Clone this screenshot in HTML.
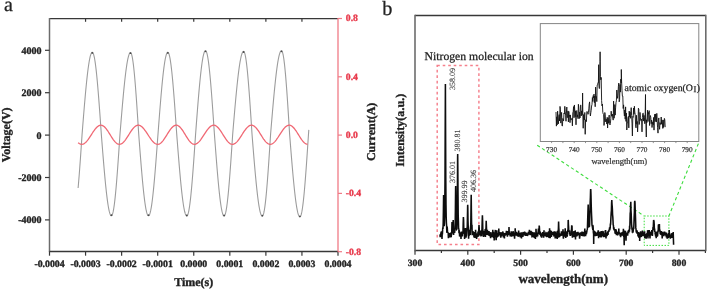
<!DOCTYPE html>
<html><head><meta charset="utf-8"><style>
html,body{margin:0;padding:0;background:#fff;}
svg{display:block;}
.tb{font-family:"Liberation Serif",serif;font-weight:bold;fill:#222;stroke:#222;stroke-width:0.35px;}
text{text-rendering:geometricPrecision;}
#g{will-change:transform;}
.tr{font-family:"Liberation Serif",serif;fill:#222;stroke:#222;stroke-width:0.25px;}
</style></head><body>
<svg width="708" height="292" viewBox="0 0 708 292">
<rect width="708" height="292" fill="#fff"/>
<g id="g"><line x1="49.5" y1="18.6" x2="338.0" y2="18.6" stroke="#383838" stroke-width="1.3"/>
<line x1="49.5" y1="18.0" x2="49.5" y2="252.1" stroke="#6c6c6c" stroke-width="1.5"/>
<line x1="49.5" y1="251.5" x2="338.0" y2="251.5" stroke="#383838" stroke-width="1.3"/>
<line x1="338.0" y1="18.0" x2="338.0" y2="252.1" stroke="#f07a86" stroke-width="1.3"/>
<line x1="49.50" y1="251.5" x2="49.50" y2="255.7" stroke="#383838" stroke-width="1.2"/>
<line x1="85.56" y1="251.5" x2="85.56" y2="255.7" stroke="#383838" stroke-width="1.2"/>
<line x1="85.56" y1="18.6" x2="85.56" y2="21.8" stroke="#383838" stroke-width="1.2"/>
<line x1="121.62" y1="251.5" x2="121.62" y2="255.7" stroke="#383838" stroke-width="1.2"/>
<line x1="121.62" y1="18.6" x2="121.62" y2="21.8" stroke="#383838" stroke-width="1.2"/>
<line x1="157.69" y1="251.5" x2="157.69" y2="255.7" stroke="#383838" stroke-width="1.2"/>
<line x1="157.69" y1="18.6" x2="157.69" y2="21.8" stroke="#383838" stroke-width="1.2"/>
<line x1="193.75" y1="251.5" x2="193.75" y2="255.7" stroke="#383838" stroke-width="1.2"/>
<line x1="193.75" y1="18.6" x2="193.75" y2="21.8" stroke="#383838" stroke-width="1.2"/>
<line x1="229.81" y1="251.5" x2="229.81" y2="255.7" stroke="#383838" stroke-width="1.2"/>
<line x1="229.81" y1="18.6" x2="229.81" y2="21.8" stroke="#383838" stroke-width="1.2"/>
<line x1="265.88" y1="251.5" x2="265.88" y2="255.7" stroke="#383838" stroke-width="1.2"/>
<line x1="265.88" y1="18.6" x2="265.88" y2="21.8" stroke="#383838" stroke-width="1.2"/>
<line x1="301.94" y1="251.5" x2="301.94" y2="255.7" stroke="#383838" stroke-width="1.2"/>
<line x1="301.94" y1="18.6" x2="301.94" y2="21.8" stroke="#383838" stroke-width="1.2"/>
<line x1="338.00" y1="251.5" x2="338.00" y2="255.7" stroke="#383838" stroke-width="1.2"/>
<text x="49.50" y="266.8" class="tb" font-size="9.8" text-anchor="middle">-0.0004</text>
<text x="85.56" y="266.8" class="tb" font-size="9.8" text-anchor="middle">-0.0003</text>
<text x="121.62" y="266.8" class="tb" font-size="9.8" text-anchor="middle">-0.0002</text>
<text x="157.69" y="266.8" class="tb" font-size="9.8" text-anchor="middle">-0.0001</text>
<text x="193.75" y="266.8" class="tb" font-size="9.8" text-anchor="middle">0.0000</text>
<text x="229.81" y="266.8" class="tb" font-size="9.8" text-anchor="middle">0.0001</text>
<text x="265.88" y="266.8" class="tb" font-size="9.8" text-anchor="middle">0.0002</text>
<text x="301.94" y="266.8" class="tb" font-size="9.8" text-anchor="middle">0.0003</text>
<text x="338.00" y="266.8" class="tb" font-size="9.8" text-anchor="middle">0.0004</text>
<line x1="45.0" y1="50.30" x2="49.5" y2="50.30" stroke="#383838" stroke-width="1.2"/>
<text x="41.6" y="53.70" class="tb" font-size="10" text-anchor="end">4000</text>
<line x1="45.0" y1="92.70" x2="49.5" y2="92.70" stroke="#383838" stroke-width="1.2"/>
<text x="41.6" y="96.10" class="tb" font-size="10" text-anchor="end">2000</text>
<line x1="45.0" y1="135.10" x2="49.5" y2="135.10" stroke="#383838" stroke-width="1.2"/>
<text x="41.6" y="138.50" class="tb" font-size="10" text-anchor="end">0</text>
<line x1="45.0" y1="177.50" x2="49.5" y2="177.50" stroke="#383838" stroke-width="1.2"/>
<text x="41.6" y="180.90" class="tb" font-size="10" text-anchor="end">-2000</text>
<line x1="45.0" y1="219.90" x2="49.5" y2="219.90" stroke="#383838" stroke-width="1.2"/>
<text x="41.6" y="223.30" class="tb" font-size="10" text-anchor="end">-4000</text>
<line x1="338.0" y1="18.50" x2="342.0" y2="18.50" stroke="#f07a86" stroke-width="1.2"/>
<text x="345.8" y="21.35" class="tb" font-size="9.7" style="fill:#e83a4c;stroke:#e83a4c">0.8</text>
<line x1="338.0" y1="76.80" x2="342.0" y2="76.80" stroke="#f07a86" stroke-width="1.2"/>
<text x="345.8" y="79.65" class="tb" font-size="9.7" style="fill:#e83a4c;stroke:#e83a4c">0.4</text>
<line x1="338.0" y1="135.10" x2="342.0" y2="135.10" stroke="#f07a86" stroke-width="1.2"/>
<text x="345.8" y="137.95" class="tb" font-size="9.7" style="fill:#e83a4c;stroke:#e83a4c">0.0</text>
<line x1="338.0" y1="193.40" x2="342.0" y2="193.40" stroke="#f07a86" stroke-width="1.2"/>
<text x="345.8" y="196.25" class="tb" font-size="9.7" style="fill:#e83a4c;stroke:#e83a4c">-0.4</text>
<line x1="338.0" y1="251.70" x2="342.0" y2="251.70" stroke="#f07a86" stroke-width="1.2"/>
<text x="345.8" y="254.55" class="tb" font-size="9.7" style="fill:#e83a4c;stroke:#e83a4c">-0.8</text>
<text x="193.7" y="286.2" class="tb" font-size="12" text-anchor="middle">Time(s)</text>
<text transform="translate(10.1,134.9) rotate(-90)" class="tb" font-size="12" text-anchor="middle">Voltage(V)</text>
<text transform="translate(375.2,131.9) rotate(-90)" class="tb" font-size="12" text-anchor="middle">Current(A)</text>
<text x="4.0" y="11" class="tr" font-size="20">a</text>
<polyline fill="none" stroke="#9c9c9c" stroke-width="1.1" points="78.10,188.07 78.35,185.25 78.60,182.32 78.85,179.29 79.10,176.17 79.35,172.97 79.60,169.68 79.85,166.32 80.10,162.90 80.35,159.42 80.60,155.88 80.85,152.31 81.10,148.69 81.35,145.04 81.60,141.37 81.85,137.69 82.10,134.00 82.35,130.86 82.60,127.72 82.85,124.58 83.10,121.47 83.35,118.37 83.60,115.29 83.85,112.25 84.10,109.23 84.35,106.25 84.60,103.32 84.85,100.43 85.10,97.58 85.35,94.80 85.60,92.07 85.85,89.40 86.10,86.80 86.35,84.26 86.60,81.81 86.85,79.43 87.10,77.13 87.35,74.91 87.60,72.78 87.85,70.75 88.10,68.80 88.35,66.96 88.60,65.21 88.85,63.56 89.10,62.02 89.35,60.59 89.60,59.26 89.85,58.05 90.10,56.94 90.35,55.96 90.60,55.08 90.85,54.33 91.10,53.69 91.35,53.17 91.60,52.77 91.85,52.50 92.10,52.34 92.35,52.30 92.60,52.41 92.85,52.68 93.10,53.10 93.35,53.67 93.60,54.39 93.85,55.27 94.10,56.30 94.35,57.47 94.60,58.79 94.85,60.26 95.10,61.86 95.35,63.60 95.60,65.48 95.85,67.49 96.10,69.62 96.35,71.87 96.60,74.25 96.85,76.74 97.10,79.33 97.35,82.03 97.60,84.83 97.85,87.72 98.10,90.71 98.35,93.77 98.60,96.91 98.85,100.12 99.10,103.39 99.35,106.73 99.60,110.11 99.85,113.54 100.10,117.01 100.35,120.52 100.60,124.04 100.85,127.59 101.10,131.15 101.35,134.64 101.60,137.82 101.85,140.99 102.10,144.15 102.35,147.30 102.60,150.43 102.85,153.53 103.10,156.60 103.35,159.64 103.60,162.64 103.85,165.60 104.10,168.51 104.35,171.36 104.60,174.16 104.85,176.90 105.10,179.58 105.35,182.18 105.60,184.72 105.85,187.17 106.10,189.55 106.35,191.84 106.60,194.05 106.85,196.16 107.10,198.18 107.35,200.10 107.60,201.93 107.85,203.65 108.10,205.26 108.35,206.77 108.60,208.17 108.85,209.45 109.10,210.62 109.35,211.68 109.60,212.62 109.85,213.43 110.10,214.13 110.35,214.71 110.60,215.17 110.85,215.50 111.10,215.71 111.35,215.80 111.60,215.75 111.85,215.52 112.10,215.13 112.35,214.57 112.60,213.84 112.85,212.95 113.10,211.89 113.35,210.67 113.60,209.28 113.85,207.75 114.10,206.05 114.35,204.21 114.60,202.22 114.85,200.09 115.10,197.82 115.35,195.42 115.60,192.89 115.85,190.24 116.10,187.46 116.35,184.58 116.60,181.60 116.85,178.51 117.10,175.33 117.35,172.07 117.60,168.72 117.85,165.30 118.10,161.82 118.35,158.28 118.60,154.69 118.85,151.06 119.10,147.39 119.35,143.69 119.60,139.97 119.85,136.24 120.10,132.78 120.35,129.74 120.60,126.70 120.85,123.68 121.10,120.67 121.35,117.67 121.60,114.70 121.85,111.76 122.10,108.85 122.35,105.97 122.60,103.13 122.85,100.34 123.10,97.59 123.35,94.89 123.60,92.25 123.85,89.67 124.10,87.14 124.35,84.69 124.60,82.30 124.85,79.99 125.10,77.75 125.35,75.59 125.60,73.51 125.85,71.51 126.10,69.61 126.35,67.79 126.60,66.07 126.85,64.44 127.10,62.90 127.35,61.47 127.60,60.14 127.85,58.91 128.10,57.79 128.35,56.77 128.60,55.87 128.85,55.07 129.10,54.38 129.35,53.80 129.60,53.34 129.85,52.98 130.10,52.75 130.35,52.62 130.60,52.61 130.85,52.78 131.10,53.14 131.35,53.68 131.60,54.40 131.85,55.31 132.10,56.39 132.35,57.66 132.60,59.10 132.85,60.71 133.10,62.49 133.35,64.43 133.60,66.54 133.85,68.79 134.10,71.20 134.35,73.75 134.60,76.44 134.85,79.26 135.10,82.21 135.35,85.28 135.60,88.45 135.85,91.73 136.10,95.11 136.35,98.58 136.60,102.13 136.85,105.75 137.10,109.44 137.35,113.18 137.60,116.97 137.85,120.80 138.10,124.66 138.35,128.55 138.60,132.44 138.85,135.97 139.10,139.24 139.35,142.51 139.60,145.76 139.85,148.99 140.10,152.20 140.35,155.38 140.60,158.53 140.85,161.63 141.10,164.70 141.35,167.71 141.60,170.67 141.85,173.57 142.10,176.40 142.35,179.17 142.60,181.87 142.85,184.49 143.10,187.03 143.35,189.48 143.60,191.84 143.85,194.11 144.10,196.29 144.35,198.36 144.60,200.33 144.85,202.20 145.10,203.95 145.35,205.59 145.60,207.12 145.85,208.53 146.10,209.82 146.35,210.99 146.60,212.04 146.85,212.96 147.10,213.75 147.35,214.41 147.60,214.95 147.85,215.36 148.10,215.63 148.35,215.78 148.60,215.79 148.85,215.66 149.10,215.40 149.35,214.99 149.60,214.45 149.85,213.77 150.10,212.95 150.35,212.00 150.60,210.92 150.85,209.70 151.10,208.36 151.35,206.88 151.60,205.29 151.85,203.57 152.10,201.73 152.35,199.78 152.60,197.71 152.85,195.54 153.10,193.26 153.35,190.88 153.60,188.40 153.85,185.83 154.10,183.17 154.35,180.42 154.60,177.60 154.85,174.70 155.10,171.74 155.35,168.71 155.60,165.62 155.85,162.47 156.10,159.28 156.35,156.04 156.60,152.77 156.85,149.46 157.10,146.13 157.35,142.77 157.60,139.41 157.85,136.03 158.10,132.69 158.35,129.42 158.60,126.15 158.85,122.90 159.10,119.67 159.35,116.46 159.60,113.28 159.85,110.13 160.10,107.02 160.35,103.95 160.60,100.93 160.85,97.96 161.10,95.05 161.35,92.21 161.60,89.43 161.85,86.72 162.10,84.09 162.35,81.54 162.60,79.07 162.85,76.69 163.10,74.41 163.35,72.22 163.60,70.12 163.85,68.13 164.10,66.25 164.35,64.48 164.60,62.81 164.85,61.26 165.10,59.83 165.35,58.52 165.60,57.33 165.85,56.26 166.10,55.31 166.35,54.50 166.60,53.81 166.85,53.25 167.10,52.81 167.35,52.51 167.60,52.34 167.85,52.30 168.10,52.41 168.35,52.68 168.60,53.11 168.85,53.70 169.10,54.44 169.35,55.34 169.60,56.39 169.85,57.59 170.10,58.94 170.35,60.44 170.60,62.07 170.85,63.85 171.10,65.77 171.35,67.82 171.60,70.00 171.85,72.30 172.10,74.72 172.35,77.26 172.60,79.91 172.85,82.66 173.10,85.51 173.35,88.46 173.60,91.50 173.85,94.62 174.10,97.81 174.35,101.08 174.60,104.41 174.85,107.80 175.10,111.23 175.35,114.72 175.60,118.24 175.85,121.79 176.10,125.36 176.35,128.96 176.60,132.56 176.85,135.91 177.10,139.10 177.35,142.28 177.60,145.44 177.85,148.59 178.10,151.71 178.35,154.81 178.60,157.88 178.85,160.91 179.10,163.90 179.35,166.85 179.60,169.74 179.85,172.58 180.10,175.37 180.35,178.09 180.60,180.74 180.85,183.33 181.10,185.84 181.35,188.27 181.60,190.61 181.85,192.88 182.10,195.05 182.35,197.13 182.60,199.12 182.85,201.01 183.10,202.79 183.35,204.48 183.60,206.05 183.85,207.52 184.10,208.88 184.35,210.12 184.60,211.25 184.85,212.26 185.10,213.15 185.35,213.92 185.60,214.58 185.85,215.11 186.10,215.51 186.35,215.80 186.60,215.96 186.85,216.00 187.10,215.88 187.35,215.61 187.60,215.17 187.85,214.56 188.10,213.80 188.35,212.88 188.60,211.80 188.85,210.57 189.10,209.19 189.35,207.65 189.60,205.97 189.85,204.14 190.10,202.18 190.35,200.08 190.60,197.85 190.85,195.49 191.10,193.01 191.35,190.41 191.60,187.70 191.85,184.88 192.10,181.96 192.35,178.95 192.60,175.84 192.85,172.65 193.10,169.39 193.35,166.05 193.60,162.66 193.85,159.20 194.10,155.69 194.35,152.14 194.60,148.56 194.85,144.94 195.10,141.31 195.35,137.66 195.60,134.00 195.85,130.70 196.10,127.40 196.35,124.11 196.60,120.84 196.85,117.59 197.10,114.36 197.35,111.17 197.60,108.01 197.85,104.89 198.10,101.82 198.35,98.80 198.60,95.83 198.85,92.92 199.10,90.08 199.35,87.31 199.60,84.61 199.85,81.99 200.10,79.45 200.35,77.00 200.60,74.63 200.85,72.36 201.10,70.19 201.35,68.12 201.60,66.15 201.85,64.28 202.10,62.53 202.35,60.89 202.60,59.36 202.85,57.96 203.10,56.67 203.35,55.50 203.60,54.46 203.85,53.54 204.10,52.75 204.35,52.08 204.60,51.55 204.85,51.14 205.10,50.87 205.35,50.72 205.60,50.71 205.85,50.86 206.10,51.17 206.35,51.64 206.60,52.26 206.85,53.05 207.10,54.00 207.35,55.10 207.60,56.36 207.85,57.76 208.10,59.32 208.35,61.02 208.60,62.86 208.85,64.84 209.10,66.96 209.35,69.20 209.60,71.57 209.85,74.07 210.10,76.68 210.35,79.40 210.60,82.23 210.85,85.16 211.10,88.18 211.35,91.29 211.60,94.49 211.85,97.76 212.10,101.11 212.35,104.51 212.60,107.98 212.85,111.50 213.10,115.05 213.35,118.65 213.60,122.28 213.85,125.93 214.10,129.59 214.35,133.26 214.60,136.66 214.85,139.97 215.10,143.28 215.35,146.57 215.60,149.83 215.85,153.08 216.10,156.29 216.35,159.47 216.60,162.60 216.85,165.69 217.10,168.72 217.35,171.70 217.60,174.62 217.85,177.47 218.10,180.24 218.35,182.95 218.60,185.57 218.85,188.11 219.10,190.56 219.35,192.91 219.60,195.17 219.85,197.33 220.10,199.39 220.35,201.34 220.60,203.18 220.85,204.90 221.10,206.51 221.35,208.00 221.60,209.37 221.85,210.62 222.10,211.74 222.35,212.73 222.60,213.59 222.85,214.33 223.10,214.93 223.35,215.40 223.60,215.73 223.85,215.93 224.10,216.00 224.35,215.91 224.60,215.66 224.85,215.23 225.10,214.64 225.35,213.87 225.60,212.94 225.85,211.85 226.10,210.59 226.35,209.17 226.60,207.60 226.85,205.87 227.10,203.99 227.35,201.97 227.60,199.81 227.85,197.51 228.10,195.07 228.35,192.51 228.60,189.83 228.85,187.03 229.10,184.12 229.35,181.10 229.60,177.99 229.85,174.78 230.10,171.49 230.35,168.13 230.60,164.69 230.85,161.18 231.10,157.62 231.35,154.02 231.60,150.36 231.85,146.68 232.10,142.97 232.35,139.24 232.60,135.50 232.85,132.21 233.10,129.24 233.35,126.27 233.60,123.32 233.85,120.37 234.10,117.45 234.35,114.54 234.60,111.66 234.85,108.82 235.10,106.00 235.35,103.22 235.60,100.48 235.85,97.78 236.10,95.13 236.35,92.53 236.60,89.98 236.85,87.49 237.10,85.06 237.35,82.70 237.60,80.40 237.85,78.17 238.10,76.02 238.35,73.93 238.60,71.93 238.85,70.01 239.10,68.17 239.35,66.41 239.60,64.75 239.85,63.17 240.10,61.69 240.35,60.30 240.60,59.00 240.85,57.80 241.10,56.70 241.35,55.70 241.60,54.81 241.85,54.01 242.10,53.32 242.35,52.74 242.60,52.26 242.85,51.88 243.10,51.61 243.35,51.45 243.60,51.40 243.85,51.49 244.10,51.76 244.35,52.21 244.60,52.84 244.85,53.65 245.10,54.63 245.35,55.78 245.60,57.11 245.85,58.60 246.10,60.26 246.35,62.08 246.60,64.06 246.85,66.19 247.10,68.47 247.35,70.89 247.60,73.45 247.85,76.14 248.10,78.96 248.35,81.90 248.60,84.95 248.85,88.11 249.10,91.37 249.35,94.72 249.60,98.16 249.85,101.68 250.10,105.27 250.35,108.92 250.60,112.62 250.85,116.37 251.10,120.16 251.35,123.98 251.60,127.83 251.85,131.68 252.10,135.25 252.35,138.39 252.60,141.51 252.85,144.63 253.10,147.72 253.35,150.80 253.60,153.86 253.85,156.88 254.10,159.88 254.35,162.83 254.60,165.75 254.85,168.61 255.10,171.43 255.35,174.19 255.60,176.90 255.85,179.54 256.10,182.11 256.35,184.62 256.60,187.05 256.85,189.41 257.10,191.68 257.35,193.87 257.60,195.97 257.85,197.99 258.10,199.91 258.35,201.73 258.60,203.46 258.85,205.08 259.10,206.60 259.35,208.02 259.60,209.33 259.85,210.53 260.10,211.62 260.35,212.59 260.60,213.45 260.85,214.20 261.10,214.83 261.35,215.34 261.60,215.73 261.85,216.01 262.10,216.16 262.35,216.20 262.60,216.07 262.85,215.76 263.10,215.26 263.35,214.58 263.60,213.72 263.85,212.69 264.10,211.48 264.35,210.09 264.60,208.53 264.85,206.81 265.10,204.93 265.35,202.88 265.60,200.68 265.85,198.34 266.10,195.84 266.35,193.21 266.60,190.45 266.85,187.56 267.10,184.55 267.35,181.43 267.60,178.20 267.85,174.88 268.10,171.46 268.35,167.95 268.60,164.38 268.85,160.73 269.10,157.02 269.35,153.26 269.60,149.46 269.85,145.63 270.10,141.77 270.35,137.89 270.60,134.00 270.85,131.00 271.10,128.00 271.35,125.01 271.60,122.04 271.85,119.08 272.10,116.13 272.35,113.21 272.60,110.32 272.85,107.46 273.10,104.63 273.35,101.85 273.60,99.10 273.85,96.40 274.10,93.74 274.35,91.14 274.60,88.60 274.85,86.11 275.10,83.69 275.35,81.33 275.60,79.04 275.85,76.82 276.10,74.68 276.35,72.61 276.60,70.62 276.85,68.71 277.10,66.89 277.35,65.16 277.60,63.51 277.85,61.96 278.10,60.50 278.35,59.14 278.60,57.87 278.85,56.70 279.10,55.63 279.35,54.67 279.60,53.80 279.85,53.04 280.10,52.39 280.35,51.84 280.60,51.40 280.85,51.07 281.10,50.84 281.35,50.72 281.60,50.72 281.85,50.89 282.10,51.26 282.35,51.83 282.60,52.59 282.85,53.54 283.10,54.68 283.35,56.00 283.60,57.51 283.85,59.20 284.10,61.07 284.35,63.10 284.60,65.30 284.85,67.67 285.10,70.19 285.35,72.86 285.60,75.67 285.85,78.62 286.10,81.70 286.35,84.91 286.60,88.23 286.85,91.65 287.10,95.18 287.35,98.80 287.60,102.50 287.85,106.27 288.10,110.11 288.35,114.00 288.60,117.95 288.85,121.93 289.10,125.94 289.35,129.96 289.60,134.00 289.85,137.16 290.10,140.32 290.35,143.46 290.60,146.59 290.85,149.71 291.10,152.80 291.35,155.86 291.60,158.90 291.85,161.89 292.10,164.85 292.35,167.76 292.60,170.62 292.85,173.43 293.10,176.18 293.35,178.87 293.60,181.49 293.85,184.05 294.10,186.53 294.35,188.94 294.60,191.26 294.85,193.51 295.10,195.66 295.35,197.73 295.60,199.70 295.85,201.58 296.10,203.36 296.35,205.04 296.60,206.62 296.85,208.09 297.10,209.46 297.35,210.71 297.60,211.85 297.85,212.88 298.10,213.80 298.35,214.59 298.60,215.28 298.85,215.84 299.10,216.28 299.35,216.61 299.60,216.81 299.85,216.90 300.10,216.84 300.35,216.62 300.60,216.22 300.85,215.66 301.10,214.92 301.35,214.01 301.60,212.94 301.85,211.70 302.10,210.30 302.35,208.74 302.60,207.02 302.85,205.15 303.10,203.14 303.35,200.98 303.60,198.68 303.85,196.24 304.10,193.68 304.35,190.99 304.60,188.18 304.85,185.26 305.10,182.24 305.35,179.11 305.60,175.89 305.85,172.58 306.10,169.19 306.35,165.72 306.60,162.20 306.85,158.61 307.10,154.97 307.35,151.29 307.60,147.57 307.85,143.82 308.10,140.05 308.35,136.27 308.60,132.63 308.80,129.88"/>
<circle cx="92.30" cy="52.90" r="0.9" fill="#4a4a4a"/>
<circle cx="111.40" cy="215.20" r="0.9" fill="#4a4a4a"/>
<circle cx="130.50" cy="53.20" r="0.9" fill="#4a4a4a"/>
<circle cx="148.50" cy="215.20" r="0.9" fill="#4a4a4a"/>
<circle cx="167.80" cy="52.90" r="0.9" fill="#4a4a4a"/>
<circle cx="186.80" cy="215.40" r="0.9" fill="#4a4a4a"/>
<circle cx="205.50" cy="51.30" r="0.9" fill="#4a4a4a"/>
<circle cx="224.10" cy="215.40" r="0.9" fill="#4a4a4a"/>
<circle cx="243.60" cy="52.00" r="0.9" fill="#4a4a4a"/>
<circle cx="262.30" cy="215.60" r="0.9" fill="#4a4a4a"/>
<circle cx="281.50" cy="51.30" r="0.9" fill="#4a4a4a"/>
<circle cx="299.90" cy="216.30" r="0.9" fill="#4a4a4a"/>
<polyline fill="none" stroke="#f06874" stroke-width="1.3" points="78.10,142.66 78.60,143.07 79.10,143.43 79.60,143.73 80.10,143.97 80.60,144.14 81.10,144.25 81.60,144.30 82.10,144.28 82.60,144.20 83.10,144.05 83.60,143.84 84.10,143.57 84.60,143.24 85.10,142.86 85.60,142.42 86.10,141.93 86.60,141.39 87.10,140.81 87.60,140.18 88.10,139.53 88.60,138.83 89.10,138.11 89.60,137.37 90.10,136.61 90.60,135.84 91.10,135.06 91.60,134.28 92.10,133.50 92.60,132.73 93.10,131.98 93.60,131.24 94.10,130.53 94.60,129.84 95.10,129.19 95.60,128.57 96.10,128.00 96.60,127.47 97.10,126.99 97.60,126.56 98.10,126.18 98.60,125.87 99.10,125.61 99.60,125.42 100.10,125.28 100.60,125.21 101.10,125.21 101.60,125.27 102.10,125.40 102.60,125.60 103.10,125.86 103.60,126.19 104.10,126.58 104.60,127.02 105.10,127.53 105.60,128.08 106.10,128.69 106.60,129.34 107.10,130.02 107.60,130.74 108.10,131.49 108.60,132.27 109.10,133.06 109.60,133.86 110.10,134.67 110.60,135.48 111.10,136.28 111.60,137.08 112.10,137.85 112.60,138.61 113.10,139.34 113.60,140.03 114.10,140.69 114.60,141.30 115.10,141.87 115.60,142.38 116.10,142.84 116.60,143.24 117.10,143.58 117.60,143.86 118.10,144.07 118.60,144.21 119.10,144.29 119.60,144.29 120.10,144.23 120.60,144.11 121.10,143.92 121.60,143.66 122.10,143.34 122.60,142.97 123.10,142.53 123.60,142.04 124.10,141.50 124.60,140.92 125.10,140.29 125.60,139.62 126.10,138.91 126.60,138.18 127.10,137.43 127.60,136.65 128.10,135.86 128.60,135.07 129.10,134.27 129.60,133.48 130.10,132.69 130.60,131.92 131.10,131.17 131.60,130.44 132.10,129.75 132.60,129.09 133.10,128.46 133.60,127.89 134.10,127.36 134.60,126.88 135.10,126.45 135.60,126.09 136.10,125.78 136.60,125.54 137.10,125.36 137.60,125.25 138.10,125.20 138.60,125.22 139.10,125.30 139.60,125.44 140.10,125.64 140.60,125.91 141.10,126.22 141.60,126.60 142.10,127.02 142.60,127.50 143.10,128.02 143.60,128.59 144.10,129.20 144.60,129.84 145.10,130.52 145.60,131.22 146.10,131.95 146.60,132.69 147.10,133.45 147.60,134.21 148.10,134.98 148.60,135.75 149.10,136.51 149.60,137.26 150.10,137.99 150.60,138.70 151.10,139.39 151.60,140.05 152.10,140.67 152.60,141.25 153.10,141.80 153.60,142.29 154.10,142.74 154.60,143.13 155.10,143.47 155.60,143.76 156.10,143.98 156.60,144.15 157.10,144.26 157.60,144.30 158.10,144.28 158.60,144.19 159.10,144.03 159.60,143.81 160.10,143.52 160.60,143.17 161.10,142.75 161.60,142.28 162.10,141.76 162.60,141.18 163.10,140.56 163.60,139.89 164.10,139.19 164.60,138.46 165.10,137.70 165.60,136.92 166.10,136.12 166.60,135.32 167.10,134.51 167.60,133.70 168.10,132.90 168.60,132.11 169.10,131.34 169.60,130.60 170.10,129.88 170.60,129.20 171.10,128.56 171.60,127.97 172.10,127.42 172.60,126.93 173.10,126.49 173.60,126.12 174.10,125.80 174.60,125.55 175.10,125.37 175.60,125.25 176.10,125.20 176.60,125.22 177.10,125.32 177.60,125.48 178.10,125.71 178.60,126.01 179.10,126.37 179.60,126.80 180.10,127.28 180.60,127.82 181.10,128.42 181.60,129.06 182.10,129.74 182.60,130.46 183.10,131.21 183.60,131.99 184.10,132.79 184.60,133.60 185.10,134.42 185.60,135.24 186.10,136.06 186.60,136.88 187.10,137.67 187.60,138.44 188.10,139.19 188.60,139.90 189.10,140.57 189.60,141.21 190.10,141.79 190.60,142.32 191.10,142.79 191.60,143.21 192.10,143.56 192.60,143.84 193.10,144.06 193.60,144.21 194.10,144.29 194.60,144.29 195.10,144.24 195.60,144.12 196.10,143.94 196.60,143.69 197.10,143.39 197.60,143.03 198.10,142.62 198.60,142.15 199.10,141.64 199.60,141.08 200.10,140.48 200.60,139.84 201.10,139.16 201.60,138.46 202.10,137.73 202.60,136.98 203.10,136.22 203.60,135.45 204.10,134.67 204.60,133.90 205.10,133.13 205.60,132.37 206.10,131.62 206.60,130.90 207.10,130.20 207.60,129.53 208.10,128.90 208.60,128.31 209.10,127.75 209.60,127.25 210.10,126.79 210.60,126.39 211.10,126.04 211.60,125.75 212.10,125.52 212.60,125.35 213.10,125.25 213.60,125.20 214.10,125.22 214.60,125.31 215.10,125.46 215.60,125.68 216.10,125.97 216.60,126.31 217.10,126.72 217.60,127.18 218.10,127.69 218.60,128.26 219.10,128.87 219.60,129.52 220.10,130.21 220.60,130.93 221.10,131.68 221.60,132.45 222.10,133.23 222.60,134.03 223.10,134.83 223.60,135.63 224.10,136.43 224.60,137.21 225.10,137.97 225.60,138.72 226.10,139.43 226.60,140.11 227.10,140.76 227.60,141.36 228.10,141.91 228.60,142.42 229.10,142.87 229.60,143.26 230.10,143.60 230.60,143.87 231.10,144.07 231.60,144.21 232.10,144.29 232.60,144.29 233.10,144.24 233.60,144.11 234.10,143.93 234.60,143.68 235.10,143.37 235.60,143.01 236.10,142.59 236.60,142.11 237.10,141.59 237.60,141.01 238.10,140.40 238.60,139.75 239.10,139.06 239.60,138.35 240.10,137.61 240.60,136.85 241.10,136.08 241.60,135.30 242.10,134.51 242.60,133.73 243.10,132.95 243.60,132.19 244.10,131.44 244.60,130.72 245.10,130.02 245.60,129.35 246.10,128.73 246.60,128.14 247.10,127.59 247.60,127.10 248.10,126.65 248.60,126.27 249.10,125.93 249.60,125.66 250.10,125.45 250.60,125.30 251.10,125.22 251.60,125.20 252.10,125.25 252.60,125.36 253.10,125.54 253.60,125.79 254.10,126.10 254.60,126.47 255.10,126.89 255.60,127.38 256.10,127.91 256.60,128.50 257.10,129.12 257.60,129.79 258.10,130.49 258.60,131.23 259.10,131.98 259.60,132.76 260.10,133.55 260.60,134.35 261.10,135.15 261.60,135.95 262.10,136.74 262.60,137.52 263.10,138.27 263.60,139.01 264.10,139.71 264.60,140.38 265.10,141.00 265.60,141.59 266.10,142.12 266.60,142.61 267.10,143.03 267.60,143.40 268.10,143.71 268.60,143.96 269.10,144.14 269.60,144.25 270.10,144.30 270.60,144.28 271.10,144.19 271.60,144.05 272.10,143.83 272.60,143.56 273.10,143.22 273.60,142.83 274.10,142.38 274.60,141.88 275.10,141.33 275.60,140.74 276.10,140.10 276.60,139.43 277.10,138.73 277.60,138.00 278.10,137.25 278.60,136.48 279.10,135.70 279.60,134.91 280.10,134.12 280.60,133.33 281.10,132.56 281.60,131.80 282.10,131.06 282.60,130.34 283.10,129.66 283.60,129.01 284.10,128.40 284.60,127.83 285.10,127.31 285.60,126.84 286.10,126.43 286.60,126.07 287.10,125.77 287.60,125.53 288.10,125.36 288.60,125.25 289.10,125.20 289.60,125.22 290.10,125.31 290.60,125.47 291.10,125.69 291.60,125.97 292.10,126.32 292.60,126.73 293.10,127.20 293.60,127.72 294.10,128.29 294.60,128.90 295.10,129.56 295.60,130.26 296.10,130.98 296.60,131.74 297.10,132.51 297.60,133.30 298.10,134.11 298.60,134.91 299.10,135.72 299.60,136.51 300.10,137.30 300.60,138.07 301.10,138.81 301.60,139.53 302.10,140.21 302.60,140.85 303.10,141.45 303.60,142.00 304.10,142.50 304.60,142.94 305.10,143.32 305.60,143.65 306.10,143.91 306.60,144.10 307.10,144.23 307.60,144.29"/>
<line x1="415.0" y1="15.5" x2="705.8" y2="15.5" stroke="#383838" stroke-width="1.3"/>
<line x1="415.0" y1="250.5" x2="705.8" y2="250.5" stroke="#383838" stroke-width="1.3"/>
<line x1="415.0" y1="14.85" x2="415.0" y2="251.15" stroke="#6c6c6c" stroke-width="1.6"/>
<line x1="705.8" y1="14.85" x2="705.8" y2="251.15" stroke="#6c6c6c" stroke-width="1.6"/>
<line x1="415.00" y1="250.5" x2="415.00" y2="254.7" stroke="#383838" stroke-width="1.2"/>
<text x="415.00" y="265.8" class="tb" font-size="9.7" text-anchor="middle">300</text>
<line x1="441.40" y1="250.5" x2="441.40" y2="253.1" stroke="#383838" stroke-width="1.2"/>
<line x1="467.80" y1="250.5" x2="467.80" y2="254.7" stroke="#383838" stroke-width="1.2"/>
<text x="467.80" y="265.8" class="tb" font-size="9.7" text-anchor="middle">400</text>
<line x1="494.20" y1="250.5" x2="494.20" y2="253.1" stroke="#383838" stroke-width="1.2"/>
<line x1="520.60" y1="250.5" x2="520.60" y2="254.7" stroke="#383838" stroke-width="1.2"/>
<text x="520.60" y="265.8" class="tb" font-size="9.7" text-anchor="middle">500</text>
<line x1="547.00" y1="250.5" x2="547.00" y2="253.1" stroke="#383838" stroke-width="1.2"/>
<line x1="573.40" y1="250.5" x2="573.40" y2="254.7" stroke="#383838" stroke-width="1.2"/>
<text x="573.40" y="265.8" class="tb" font-size="9.7" text-anchor="middle">600</text>
<line x1="599.80" y1="250.5" x2="599.80" y2="253.1" stroke="#383838" stroke-width="1.2"/>
<line x1="626.20" y1="250.5" x2="626.20" y2="254.7" stroke="#383838" stroke-width="1.2"/>
<text x="626.20" y="265.8" class="tb" font-size="9.7" text-anchor="middle">700</text>
<line x1="652.60" y1="250.5" x2="652.60" y2="253.1" stroke="#383838" stroke-width="1.2"/>
<line x1="679.00" y1="250.5" x2="679.00" y2="254.7" stroke="#383838" stroke-width="1.2"/>
<text x="679.00" y="265.8" class="tb" font-size="9.7" text-anchor="middle">800</text>
<line x1="705.40" y1="250.5" x2="705.40" y2="253.1" stroke="#383838" stroke-width="1.2"/>
<text x="563.2" y="283.2" class="tb" font-size="13" text-anchor="middle">wavelength(nm)</text>
<text transform="translate(404.4,130.2) rotate(-90)" class="tb" font-size="12.2" text-anchor="middle">Intensity(a.u.)</text>
<text x="382.3" y="14.9" class="tr" font-size="20.3">b</text>
<rect x="437.2" y="65.5" width="41.7" height="179" fill="none" stroke="#f5808c" stroke-width="1.45" stroke-dasharray="2.6,2.9"/>
<text x="424.6" y="59.9" class="tr" font-size="11.7">Nitrogen molecular ion</text>
<text transform="translate(454.7,79.0) rotate(-90)" class="tr" font-size="8.0" text-anchor="middle" style="fill:#3c3c3c;stroke:#3c3c3c;stroke-width:0.12px">358.09</text>
<text transform="translate(459.9,140.4) rotate(-90)" class="tr" font-size="8.0" text-anchor="middle" style="fill:#3c3c3c;stroke:#3c3c3c;stroke-width:0.12px">380.81</text>
<text transform="translate(454.5,172.1) rotate(-90)" class="tr" font-size="8.0" text-anchor="middle" style="fill:#3c3c3c;stroke:#3c3c3c;stroke-width:0.12px">376.01</text>
<text transform="translate(466.8,191.4) rotate(-90)" class="tr" font-size="8.0" text-anchor="middle" style="fill:#3c3c3c;stroke:#3c3c3c;stroke-width:0.12px">399.99</text>
<text transform="translate(476.0,181.1) rotate(-90)" class="tr" font-size="8.0" text-anchor="middle" style="fill:#3c3c3c;stroke:#3c3c3c;stroke-width:0.12px">406.36</text>
<rect x="644.2" y="216" width="24.7" height="29.4" fill="none" stroke="#3ddc3d" stroke-width="1" stroke-dasharray="1.5,1.5"/>
<line x1="537.2" y1="145.2" x2="644.2" y2="216" stroke="#3ddc3d" stroke-width="1.1" stroke-dasharray="3.2,2.6"/>
<line x1="698.4" y1="143.6" x2="668.9" y2="216" stroke="#3ddc3d" stroke-width="1.1" stroke-dasharray="3.2,2.6"/>
<polyline fill="none" stroke="#0d0d0d" stroke-width="1.55" stroke-linejoin="miter" stroke-miterlimit="3" points="440.00,234.45 440.20,237.13 440.40,234.19 440.60,236.29 440.80,234.29 441.00,232.40 441.20,237.14 441.40,231.17 441.60,236.78 441.80,233.71 442.00,239.09 442.20,234.18 442.40,234.58 442.60,230.23 442.70,229.00 442.80,227.46 443.00,229.05 443.20,222.66 443.40,211.09 443.60,195.00 443.80,212.16 444.00,221.73 444.20,226.24 444.40,223.44 444.60,217.60 444.80,203.66 445.00,182.00 445.20,130.56 445.40,84.00 445.60,136.01 445.80,180.62 446.00,204.95 446.20,217.37 446.40,222.85 446.60,225.55 446.80,231.48 447.00,231.28 447.20,226.50 447.40,229.85 447.60,232.90 447.80,232.45 448.00,232.65 448.20,233.02 448.40,238.29 448.60,234.86 448.80,233.36 449.00,233.77 449.20,233.75 449.40,234.30 449.60,237.45 449.80,235.26 450.00,234.99 450.20,233.39 450.40,233.78 450.60,232.59 450.80,234.97 451.00,236.62 451.20,237.18 451.40,234.36 451.60,234.16 451.80,230.53 452.00,222.00 452.20,226.11 452.40,231.94 452.60,233.33 452.80,230.63 453.00,224.71 453.20,220.00 453.40,225.69 453.60,234.98 453.80,229.94 454.00,232.60 454.20,231.23 454.40,232.24 454.60,232.87 454.80,230.76 455.00,228.74 455.20,223.44 455.40,209.21 455.60,188.76 455.70,186.00 455.80,191.25 456.00,210.72 456.20,222.59 456.40,227.57 456.60,229.49 456.80,229.28 457.00,222.39 457.20,210.14 457.40,195.66 457.60,158.49 457.70,154.00 457.80,164.92 458.00,192.64 458.20,215.23 458.40,221.01 458.60,228.93 458.80,228.52 459.00,233.19 459.20,230.29 459.40,231.24 459.60,236.43 459.80,235.94 460.00,234.37 460.20,233.51 460.40,232.42 460.60,234.43 460.80,234.80 461.00,239.00 461.20,235.01 461.40,235.76 461.60,231.47 461.80,236.14 462.00,235.31 462.20,236.25 462.40,235.45 462.60,232.53 462.80,233.90 463.00,231.66 463.20,223.14 463.40,217.00 463.60,220.10 463.80,228.86 464.00,233.01 464.20,232.28 464.40,232.81 464.60,238.96 464.80,234.36 465.00,236.42 465.20,232.34 465.40,228.00 465.60,231.74 465.80,233.52 466.00,237.65 466.20,234.77 466.40,236.24 466.60,234.14 466.80,230.87 467.00,228.54 467.20,228.62 467.40,219.25 467.60,208.01 467.70,204.80 467.80,207.21 468.00,220.43 468.20,226.07 468.40,228.73 468.60,238.84 468.80,233.29 469.00,233.06 469.20,235.67 469.40,233.46 469.60,235.28 469.80,229.83 470.00,233.97 470.20,234.97 470.40,230.64 470.60,226.90 470.80,224.07 471.00,208.18 471.20,194.80 471.40,211.31 471.60,223.57 471.80,225.29 472.00,225.45 472.20,235.16 472.40,234.40 472.60,233.96 472.80,233.19 473.00,233.81 473.20,231.31 473.40,233.45 473.60,234.95 473.80,234.15 474.00,237.56 474.20,236.16 474.40,233.18 474.60,237.09 474.80,232.04 474.90,237.90 475.00,237.11 475.20,234.69 475.40,233.16 475.60,229.76 475.80,233.44 476.00,234.99 476.20,236.15 476.40,235.33 476.60,238.90 476.80,234.17 477.00,236.44 477.20,236.45 477.40,233.64 477.60,235.27 477.80,235.76 478.00,231.43 478.20,234.94 478.40,236.64 478.60,232.32 478.80,229.11 479.00,225.00 479.20,228.37 479.40,232.82 479.60,232.56 479.80,235.21 480.00,234.39 480.20,234.87 480.40,230.65 480.60,233.23 480.80,234.06 481.00,236.40 481.20,232.82 481.40,234.45 481.60,236.08 481.80,231.37 482.00,228.70 482.20,221.37 482.40,215.30 482.60,220.03 482.80,230.32 483.00,231.28 483.20,232.23 483.40,236.89 483.60,231.06 483.80,233.73 484.00,231.75 484.20,230.70 484.40,234.27 484.60,233.03 484.80,233.40 485.00,236.44 485.20,229.06 485.40,236.89 485.60,233.82 485.80,229.56 486.00,227.73 486.20,220.80 486.40,225.81 486.60,230.29 486.80,233.02 487.00,234.73 487.20,233.78 487.40,229.89 487.60,234.66 487.80,231.39 488.00,232.07 488.20,235.32 488.40,234.50 488.60,232.85 488.80,234.65 489.00,231.05 489.20,236.04 489.40,232.35 489.60,235.08 489.80,235.69 490.00,235.76 490.20,234.29 490.40,234.64 490.60,238.25 490.80,233.01 491.00,232.34 491.20,236.64 491.40,234.20 491.60,234.57 491.80,234.16 492.00,237.03 492.20,235.94 492.40,235.27 492.60,234.97 492.80,229.78 493.00,234.00 493.20,235.92 493.40,231.86 493.60,237.99 493.80,235.33 494.00,235.20 494.20,240.36 494.40,232.41 494.60,235.23 494.80,233.68 495.00,236.65 495.20,230.83 495.40,229.95 495.60,234.29 495.80,232.55 496.00,239.08 496.20,240.13 496.40,232.49 496.60,235.07 496.80,230.29 497.00,233.66 497.20,237.35 497.40,233.83 497.60,232.92 497.80,236.49 498.00,235.56 498.20,235.55 498.40,234.08 498.60,236.49 498.80,228.45 499.00,233.12 499.20,234.32 499.40,235.09 499.60,233.12 499.80,233.12 500.00,232.17 500.20,233.36 500.40,234.73 500.60,235.46 500.80,237.65 501.00,233.93 501.20,233.70 501.40,236.38 501.60,233.30 501.80,232.34 502.00,233.11 502.20,234.42 502.40,234.62 502.60,233.70 502.80,232.19 503.00,232.23 503.20,234.11 503.40,237.36 503.60,235.77 503.80,234.17 504.00,235.85 504.20,233.41 504.40,238.39 504.60,233.79 504.80,233.71 505.00,235.88 505.20,233.91 505.40,233.68 505.60,233.80 505.80,232.98 506.00,234.03 506.20,232.67 506.40,230.83 506.60,232.67 506.80,231.44 507.00,235.44 507.20,231.07 507.40,236.62 507.60,233.24 507.80,235.52 508.00,233.43 508.20,235.01 508.40,231.15 508.60,233.47 508.80,234.48 509.00,227.00 509.20,232.17 509.40,233.68 509.60,234.50 509.80,233.71 510.00,234.90 510.20,234.64 510.40,236.37 510.60,235.51 510.80,233.54 511.00,233.26 511.20,231.43 511.40,233.90 511.60,236.78 511.80,233.79 512.00,233.81 512.20,231.67 512.40,235.46 512.60,232.06 512.80,236.09 513.00,231.22 513.20,231.65 513.40,233.90 513.60,233.46 513.80,234.76 514.00,233.57 514.20,235.03 514.40,236.25 514.60,238.64 514.80,232.55 515.00,235.37 515.20,228.32 515.40,232.43 515.60,234.56 515.80,235.53 516.00,234.48 516.20,235.38 516.40,234.38 516.60,232.84 516.80,233.00 517.00,234.48 517.20,233.14 517.40,236.10 517.60,234.41 517.80,234.85 518.00,232.75 518.20,235.69 518.40,236.80 518.60,230.48 518.80,232.22 519.00,236.51 519.20,234.86 519.40,235.15 519.60,235.71 519.80,232.82 520.00,234.10 520.20,236.41 520.40,237.48 520.60,234.35 520.80,235.49 521.00,234.99 521.20,232.43 521.40,234.56 521.50,238.50 521.60,235.23 521.80,233.20 522.00,234.97 522.20,233.95 522.40,232.33 522.60,233.77 522.80,236.89 523.00,235.69 523.20,233.98 523.40,232.76 523.60,232.84 523.80,235.50 524.00,234.18 524.20,234.11 524.40,234.50 524.60,231.54 524.80,234.69 525.00,233.23 525.20,232.83 525.40,235.82 525.60,232.37 525.80,235.92 526.00,234.16 526.20,232.83 526.40,234.09 526.60,232.83 526.80,234.82 527.00,234.93 527.20,235.08 527.40,235.90 527.60,235.37 527.80,235.00 528.00,233.79 528.20,234.71 528.40,231.90 528.60,234.17 528.80,233.19 529.00,231.85 529.20,232.85 529.40,229.77 529.60,234.09 529.80,234.14 530.00,233.88 530.20,233.69 530.40,235.11 530.60,231.27 530.80,234.73 531.00,230.70 531.20,233.41 531.40,234.35 531.60,231.67 531.80,234.08 532.00,236.60 532.20,236.53 532.40,232.02 532.60,233.14 532.80,233.14 533.00,235.81 533.20,236.78 533.40,237.12 533.60,233.12 533.80,233.86 534.00,235.30 534.20,232.25 534.40,233.48 534.60,237.87 534.80,234.88 535.00,235.96 535.20,236.48 535.40,238.88 535.60,233.45 535.80,236.71 536.00,228.77 536.20,232.66 536.40,235.38 536.60,235.64 536.80,232.99 537.00,234.14 537.20,233.99 537.40,233.90 537.60,236.47 537.80,233.63 538.00,232.30 538.20,232.24 538.40,228.45 538.60,234.14 538.80,231.53 539.00,232.50 539.20,225.55 539.30,226.20 539.40,227.26 539.60,231.28 539.80,233.57 540.00,233.39 540.20,231.65 540.40,233.53 540.60,233.80 540.80,236.40 541.00,234.23 541.20,234.38 541.40,235.75 541.60,237.72 541.80,235.89 542.00,235.53 542.20,233.02 542.40,234.31 542.60,232.16 542.80,234.59 543.00,233.52 543.20,235.64 543.40,234.38 543.60,237.71 543.80,235.76 544.00,230.40 544.20,236.15 544.40,233.67 544.60,236.25 544.80,233.25 545.00,234.59 545.20,235.28 545.40,233.71 545.60,233.36 545.80,234.57 546.00,235.11 546.20,236.69 546.40,235.16 546.60,234.64 546.80,237.17 547.00,232.38 547.20,233.06 547.40,233.56 547.60,233.46 547.80,236.90 548.00,234.63 548.20,236.90 548.40,232.54 548.60,231.39 548.80,233.18 549.00,238.09 549.20,233.93 549.40,233.83 549.60,228.34 549.80,234.03 550.00,237.46 550.20,237.47 550.40,234.44 550.60,235.78 550.80,234.77 551.00,231.36 551.20,231.47 551.40,237.00 551.60,232.11 551.80,233.56 552.00,234.83 552.20,232.40 552.40,233.58 552.60,232.52 552.80,234.60 553.00,233.40 553.20,231.68 553.40,235.48 553.60,234.58 553.80,236.37 554.00,233.94 554.20,234.40 554.40,231.30 554.60,232.87 554.80,236.37 555.00,234.61 555.20,238.45 555.40,237.41 555.60,231.47 555.80,233.55 556.00,234.16 556.20,234.79 556.40,232.99 556.60,238.21 556.80,234.87 557.00,235.35 557.20,238.91 557.40,231.41 557.60,231.07 557.80,237.95 558.00,233.87 558.20,231.38 558.40,228.63 558.60,221.60 558.80,227.72 559.00,230.34 559.20,236.38 559.40,236.43 559.60,233.78 559.80,233.99 560.00,236.29 560.20,235.68 560.40,233.59 560.60,233.93 560.80,234.01 561.00,235.80 561.20,234.92 561.40,231.39 561.60,232.47 561.80,235.31 562.00,233.01 562.20,233.79 562.40,235.30 562.60,234.76 562.80,235.55 563.00,229.34 563.20,236.18 563.40,238.78 563.60,236.03 563.80,234.37 564.00,234.75 564.20,231.41 564.40,236.82 564.60,233.78 564.80,235.16 565.00,234.67 565.20,228.38 565.40,233.86 565.60,234.85 565.80,237.92 566.00,232.30 566.20,235.26 566.40,231.25 566.60,232.35 566.80,235.16 567.00,233.91 567.20,236.67 567.40,234.09 567.60,234.57 567.80,229.68 568.00,231.92 568.20,219.91 568.30,220.80 568.40,224.12 568.60,226.86 568.80,231.01 569.00,231.42 569.20,230.36 569.40,231.83 569.60,230.43 569.80,233.69 570.00,233.71 570.20,235.84 570.40,234.84 570.60,233.95 570.80,234.95 571.00,234.92 571.20,235.19 571.40,230.34 571.60,228.45 571.70,225.40 571.80,226.31 572.00,225.77 572.20,232.61 572.40,237.62 572.60,232.33 572.80,233.16 573.00,235.79 573.20,234.53 573.40,234.15 573.60,236.89 573.80,231.23 574.00,231.60 574.20,237.13 574.40,233.36 574.60,232.90 574.80,235.33 575.00,235.61 575.20,230.41 575.40,232.93 575.50,239.50 575.60,234.32 575.80,235.04 576.00,235.28 576.20,234.39 576.40,234.45 576.60,234.51 576.80,236.35 577.00,232.82 577.20,232.83 577.40,233.57 577.60,235.71 577.80,233.79 578.00,231.79 578.20,234.79 578.40,233.44 578.60,232.83 578.80,233.69 579.00,233.10 579.20,234.05 579.40,235.20 579.60,238.78 579.80,236.42 580.00,235.88 580.20,234.55 580.40,232.35 580.60,234.65 580.80,233.84 581.00,234.73 581.20,232.61 581.40,233.90 581.60,232.73 581.80,235.95 582.00,231.52 582.20,233.53 582.40,231.86 582.60,235.30 582.80,235.28 583.00,234.21 583.20,234.33 583.40,234.94 583.60,233.85 583.80,232.83 584.00,232.70 584.20,236.49 584.40,231.48 584.60,233.21 584.80,228.44 585.00,235.85 585.20,234.05 585.40,232.49 585.60,236.30 585.80,231.45 586.00,234.54 586.20,230.75 586.40,234.06 586.60,232.50 586.80,231.98 587.00,230.07 587.20,230.49 587.40,228.28 587.60,222.49 587.80,216.04 588.00,209.85 588.20,204.50 588.40,212.90 588.60,216.77 588.80,223.18 589.00,226.61 589.20,226.46 589.40,226.46 589.60,224.32 589.80,214.32 590.00,209.28 590.20,202.13 590.40,197.21 590.60,189.83 590.70,189.10 590.80,190.07 591.00,195.72 591.20,204.51 591.40,210.98 591.60,215.68 591.80,220.10 592.00,225.27 592.20,225.60 592.40,226.99 592.60,226.71 592.80,229.96 593.00,225.25 593.20,228.63 593.40,232.83 593.60,233.91 593.70,244.00 593.80,232.37 594.00,230.63 594.20,234.38 594.40,231.73 594.60,231.72 594.80,232.76 595.00,233.90 595.20,234.00 595.40,236.15 595.60,233.87 595.80,234.32 596.00,233.46 596.20,233.83 596.40,232.87 596.60,235.74 596.80,234.98 597.00,232.91 597.20,235.76 597.40,233.86 597.60,231.80 597.80,235.51 598.00,232.27 598.20,230.41 598.40,230.94 598.60,238.17 598.80,232.42 599.00,235.89 599.20,236.77 599.40,232.06 599.60,233.49 599.80,233.92 600.00,231.87 600.20,235.02 600.40,234.59 600.60,236.60 600.80,236.67 601.00,234.81 601.20,231.06 601.40,232.11 601.60,237.08 601.80,234.17 602.00,236.00 602.20,234.15 602.40,236.23 602.60,234.12 602.80,231.86 603.00,230.98 603.20,233.04 603.40,233.79 603.60,234.15 603.80,237.22 604.00,234.86 604.20,233.25 604.40,236.01 604.60,235.01 604.80,234.17 605.00,237.02 605.20,230.42 605.40,232.78 605.60,229.98 605.80,234.40 606.00,238.50 606.20,234.13 606.40,232.91 606.60,234.95 606.80,236.06 607.00,234.05 607.20,235.61 607.40,234.02 607.60,232.11 607.80,231.97 608.00,234.96 608.20,232.21 608.40,231.34 608.60,231.22 608.80,231.97 609.00,230.19 609.20,229.97 609.40,229.47 609.60,227.23 609.80,228.23 610.00,228.56 610.20,227.54 610.40,223.64 610.60,224.65 610.80,220.03 611.00,216.09 611.20,212.68 611.40,210.48 611.60,202.75 611.80,200.03 611.90,201.80 612.00,203.98 612.20,206.41 612.40,209.61 612.60,214.70 612.80,216.92 613.00,220.65 613.20,224.94 613.40,225.20 613.60,228.58 613.80,229.39 614.00,227.21 614.20,230.42 614.40,230.03 614.60,230.58 614.80,228.95 615.00,232.15 615.20,231.99 615.40,231.14 615.60,234.04 615.80,229.23 616.00,230.17 616.20,230.57 616.40,235.18 616.60,233.97 616.80,233.43 617.00,232.86 617.20,232.61 617.40,233.03 617.60,234.43 617.80,234.69 618.00,234.37 618.20,233.83 618.40,232.65 618.60,234.12 618.80,228.52 619.00,234.08 619.20,232.85 619.40,233.31 619.60,233.97 619.80,233.29 620.00,234.15 620.20,235.94 620.40,235.31 620.60,237.22 620.80,236.02 621.00,232.52 621.20,233.63 621.40,234.89 621.60,233.53 621.80,232.39 622.00,235.65 622.20,234.15 622.40,234.51 622.60,234.12 622.80,231.72 623.00,235.21 623.20,234.56 623.40,228.83 623.60,234.87 623.80,237.33 624.00,236.87 624.20,245.20 624.40,232.36 624.60,231.44 624.80,230.66 625.00,234.29 625.20,234.20 625.40,232.95 625.60,232.65 625.80,234.43 626.00,240.79 626.20,235.11 626.40,233.09 626.60,234.72 626.80,233.17 627.00,235.66 627.20,233.54 627.40,233.68 627.60,235.80 627.80,233.47 628.00,231.84 628.20,231.99 628.40,231.37 628.60,231.44 628.80,231.73 629.00,230.47 629.20,229.71 629.40,231.78 629.60,225.73 629.80,229.33 630.00,220.68 630.20,212.95 630.40,212.75 630.60,205.20 630.80,201.72 631.00,210.58 631.20,213.85 631.40,219.76 631.60,224.63 631.80,226.69 632.00,229.75 632.20,228.40 632.40,232.76 632.60,231.46 632.80,232.21 633.00,232.05 633.20,230.87 633.40,228.62 633.60,227.65 633.80,227.80 634.00,221.86 634.20,215.93 634.40,212.30 634.60,201.96 634.80,200.80 635.00,202.82 635.20,209.44 635.40,214.27 635.60,220.23 635.80,227.63 636.00,229.04 636.20,231.38 636.40,231.32 636.60,232.65 636.80,230.19 637.00,233.77 637.20,231.01 637.40,232.00 637.60,232.80 637.80,232.21 638.00,236.52 638.20,233.07 638.40,233.40 638.60,232.10 638.80,237.63 639.00,233.45 639.20,234.41 639.40,236.95 639.60,234.44 639.70,241.00 639.80,233.84 640.00,232.80 640.20,233.80 640.40,234.60 640.60,231.28 640.80,234.59 641.00,235.50 641.20,236.50 641.40,236.41 641.60,236.75 641.80,233.26 642.00,234.19 642.20,233.10 642.40,230.53 642.60,235.79 642.80,234.17 643.00,235.78 643.20,234.34 643.40,235.92 643.60,235.26 643.80,233.84 644.00,232.92 644.20,233.22 644.40,232.53 644.60,231.37 644.80,238.35 645.00,235.93 645.20,234.80 645.40,236.46 645.60,236.50 645.80,233.91 646.00,235.07 646.20,238.73 646.40,234.23 646.60,234.04 646.80,233.79 647.00,234.23 647.20,234.98 647.40,236.67 647.60,230.17 647.80,232.44 648.00,238.52 648.20,232.49 648.40,232.92 648.60,234.20 648.80,233.96 649.00,236.20 649.20,230.14 649.40,232.76 649.60,233.86 649.80,235.76 650.00,238.37 650.20,233.58 650.40,234.46 650.60,233.94 650.80,233.07 651.00,231.74 651.20,235.53 651.40,231.89 651.60,233.74 651.80,230.04 652.00,232.08 652.20,230.53 652.40,235.98 652.60,231.04 652.80,230.89 653.00,227.01 653.20,229.38 653.40,224.20 653.60,219.97 653.80,220.40 654.00,221.23 654.20,224.27 654.40,229.97 654.60,228.48 654.80,231.97 655.00,231.29 655.20,234.35 655.40,232.33 655.60,236.34 655.80,232.70 656.00,234.87 656.20,238.18 656.40,231.73 656.60,234.26 656.80,235.73 657.00,231.62 657.20,236.71 657.40,235.54 657.60,235.53 657.80,233.28 658.00,230.68 658.20,231.34 658.40,224.52 658.60,227.95 658.80,226.58 659.00,225.25 659.10,224.00 659.20,227.64 659.40,224.01 659.60,231.70 659.80,231.25 660.00,231.08 660.20,234.32 660.40,231.03 660.60,232.68 660.80,234.19 661.00,234.77 661.20,231.16 661.40,234.43 661.60,234.97 661.80,231.63 662.00,233.13 662.20,238.55 662.40,235.01 662.60,236.25 662.80,233.57 663.00,233.23 663.20,233.95 663.40,232.33 663.60,235.16 663.80,236.08 664.00,234.01 664.20,234.18 664.40,234.96 664.60,231.50 664.80,233.49 665.00,232.19 665.20,234.69 665.40,232.97 665.60,234.82 665.80,233.38 666.00,236.11 666.20,232.51 666.40,237.47 666.60,232.88 666.80,234.24 667.00,235.14 667.20,238.69 667.40,235.78 667.60,236.46 667.80,236.03 668.00,237.13 668.20,237.00 668.40,238.19 668.60,234.14 668.80,233.30 669.00,236.55 669.20,230.05 669.40,234.49 669.60,236.96 669.80,236.44 670.00,235.83 670.20,236.11 670.40,238.60 670.60,235.07 670.80,237.94 671.00,236.42 671.20,233.61 671.40,236.63 671.60,234.11 671.80,235.86 672.00,233.08 672.20,235.47 672.40,237.92 672.60,237.02 672.80,233.49 673.00,235.90 673.20,231.94 673.60,244.80"/>
<rect x="540.3" y="23.6" width="158.5" height="117.9" fill="#fff" stroke="#858585" stroke-width="1"/>
<line x1="551.60" y1="141.5" x2="551.60" y2="143.1" stroke="#777" stroke-width="0.8"/>
<text x="551.60" y="151.6" class="tr" font-size="7.3" text-anchor="middle" style="fill:#333;stroke:#333;stroke-width:0.22px">730</text>
<line x1="562.90" y1="141.5" x2="562.90" y2="143.1" stroke="#777" stroke-width="0.8"/>
<line x1="574.20" y1="141.5" x2="574.20" y2="143.1" stroke="#777" stroke-width="0.8"/>
<text x="574.20" y="151.6" class="tr" font-size="7.3" text-anchor="middle" style="fill:#333;stroke:#333;stroke-width:0.22px">740</text>
<line x1="585.50" y1="141.5" x2="585.50" y2="143.1" stroke="#777" stroke-width="0.8"/>
<line x1="596.80" y1="141.5" x2="596.80" y2="143.1" stroke="#777" stroke-width="0.8"/>
<text x="596.80" y="151.6" class="tr" font-size="7.3" text-anchor="middle" style="fill:#333;stroke:#333;stroke-width:0.22px">750</text>
<line x1="608.10" y1="141.5" x2="608.10" y2="143.1" stroke="#777" stroke-width="0.8"/>
<line x1="619.40" y1="141.5" x2="619.40" y2="143.1" stroke="#777" stroke-width="0.8"/>
<text x="619.40" y="151.6" class="tr" font-size="7.3" text-anchor="middle" style="fill:#333;stroke:#333;stroke-width:0.22px">760</text>
<line x1="630.70" y1="141.5" x2="630.70" y2="143.1" stroke="#777" stroke-width="0.8"/>
<line x1="642.00" y1="141.5" x2="642.00" y2="143.1" stroke="#777" stroke-width="0.8"/>
<text x="642.00" y="151.6" class="tr" font-size="7.3" text-anchor="middle" style="fill:#333;stroke:#333;stroke-width:0.22px">770</text>
<line x1="653.30" y1="141.5" x2="653.30" y2="143.1" stroke="#777" stroke-width="0.8"/>
<line x1="664.60" y1="141.5" x2="664.60" y2="143.1" stroke="#777" stroke-width="0.8"/>
<text x="664.60" y="151.6" class="tr" font-size="7.3" text-anchor="middle" style="fill:#333;stroke:#333;stroke-width:0.22px">780</text>
<line x1="675.90" y1="141.5" x2="675.90" y2="143.1" stroke="#777" stroke-width="0.8"/>
<line x1="687.20" y1="141.5" x2="687.20" y2="143.1" stroke="#777" stroke-width="0.8"/>
<text x="687.20" y="151.6" class="tr" font-size="7.3" text-anchor="middle" style="fill:#333;stroke:#333;stroke-width:0.22px">790</text>
<text x="619.3" y="163.6" class="tr" font-size="8.5" text-anchor="middle" style="fill:#333;stroke:#333;stroke-width:0.2px">wavelength(nm)</text>
<text x="624.6" y="90.5" class="tr" font-size="9.8" style="fill:#222;stroke:#222">atomic oxygen(O<tspan font-size="8.6" dx="0.6" dy="1.4">I</tspan><tspan dy="-1.4" dx="0.3">)</tspan></text>
<polyline fill="none" stroke="#121212" stroke-width="0.9" stroke-linejoin="miter" stroke-miterlimit="3" points="556.00,112.00 556.40,126.14 556.80,116.82 557.20,124.84 557.60,111.17 558.00,118.13 558.40,123.83 558.80,117.08 559.20,114.62 559.60,121.01 560.00,106.42 560.40,109.18 560.80,123.10 561.20,117.71 561.60,112.42 562.00,125.49 562.40,126.12 562.80,118.50 563.20,119.17 563.60,120.90 564.00,113.03 564.40,113.95 564.80,106.33 565.20,111.19 565.60,115.13 566.00,121.26 566.40,113.10 566.80,107.06 567.20,117.77 567.60,117.23 568.00,110.91 568.40,121.98 568.80,111.46 569.20,116.46 569.60,115.19 570.00,122.68 570.40,114.93 570.80,119.84 571.20,119.59 571.60,119.56 572.00,118.20 572.40,125.90 572.80,112.66 573.20,111.57 573.60,106.55 574.00,117.80 574.40,104.98 574.80,111.13 575.20,116.81 575.60,110.81 576.00,124.81 576.40,111.51 576.80,110.54 577.20,116.96 577.60,114.87 578.00,118.65 578.40,104.28 578.80,110.39 579.20,118.68 579.60,112.15 580.00,117.92 580.40,105.32 580.80,104.93 581.20,116.00 581.60,110.88 582.00,115.11 582.40,113.02 582.60,93.00 582.80,112.44 583.20,128.26 583.60,114.59 584.00,117.53 584.40,119.89 584.80,112.46 585.20,134.30 585.60,119.92 586.00,119.85 586.40,121.61 586.80,111.63 587.20,112.10 587.60,111.81 588.00,114.34 588.40,112.69 588.80,108.88 589.20,104.13 589.60,101.88 590.00,112.41 590.40,115.98 590.80,112.80 591.20,110.33 591.60,106.00 592.00,104.33 592.40,97.53 592.80,101.53 593.20,95.66 593.60,97.85 594.00,94.10 594.40,102.69 594.80,96.05 595.20,106.72 595.60,87.11 596.00,97.37 596.40,96.57 596.80,101.62 597.20,84.93 597.60,84.83 598.00,82.46 598.40,82.76 598.70,64.70 598.80,83.28 599.20,88.54 599.60,88.38 600.00,61.45 600.10,51.80 600.40,76.71 600.80,79.81 601.20,77.43 601.60,100.41 602.00,105.87 602.40,104.04 602.80,112.42 603.20,113.95 603.60,114.28 604.00,125.44 604.40,122.25 604.80,112.50 605.20,114.36 605.60,121.82 606.00,120.97 606.40,119.26 606.80,124.03 607.20,117.34 607.60,128.03 608.00,117.84 608.40,123.31 608.80,118.16 609.20,115.09 609.60,123.72 610.00,124.93 610.40,123.20 610.80,118.63 611.20,111.19 611.60,116.06 612.00,116.19 612.40,114.09 612.80,118.10 613.20,120.11 613.60,101.07 614.00,118.29 614.40,116.82 614.80,104.56 615.20,115.12 615.60,107.78 616.00,102.50 616.40,100.84 616.80,90.03 617.20,95.24 617.60,98.34 618.00,93.09 618.40,86.29 618.80,83.08 619.20,101.83 619.60,99.56 620.00,84.51 620.40,92.11 620.80,79.18 621.20,82.87 621.30,69.50 621.60,81.29 622.00,90.40 622.40,96.15 622.80,96.03 623.20,108.51 623.60,104.86 624.00,111.84 624.40,115.97 624.80,109.98 625.20,119.16 625.60,106.86 626.00,121.38 626.40,113.09 626.80,130.00 627.20,122.77 627.60,122.91 628.00,117.41 628.40,116.36 628.80,127.92 629.20,111.12 629.60,116.80 630.00,111.91 630.40,118.30 630.80,113.04 631.20,107.65 631.60,115.37 632.00,123.10 632.40,136.00 632.80,116.46 633.20,117.35 633.60,108.01 634.00,114.31 634.40,106.27 634.80,112.11 635.20,114.33 635.60,124.84 636.00,127.83 636.40,115.26 636.80,124.26 637.20,121.46 637.60,131.90 638.00,123.26 638.40,108.22 638.80,109.09 639.20,124.47 639.60,121.52 640.00,112.40 640.40,117.57 640.80,120.49 641.20,119.72 641.60,119.10 642.00,131.88 642.40,117.35 642.80,113.39 643.20,113.14 643.60,121.08 644.00,115.34 644.40,117.68 644.80,123.74 645.20,113.54 645.50,94.50 645.60,119.98 646.00,123.20 646.30,137.00 646.40,119.79 646.80,122.73 647.20,117.20 647.60,110.13 648.00,121.51 648.40,112.37 648.80,114.19 649.20,110.65 649.60,125.53 650.00,118.14 650.40,115.53 650.80,117.53 651.20,123.72 651.60,120.05 652.00,127.52 652.40,124.41 652.80,121.79 653.20,124.84 653.60,117.44 654.00,130.14 654.40,118.02 654.80,114.10 655.20,121.63 655.60,113.95 656.00,116.51 656.40,121.97 656.80,113.35 657.20,121.35 657.60,127.63 658.00,133.11 658.40,120.85 658.80,117.93 659.20,125.82 659.60,129.29 660.00,122.63 660.40,124.15 660.80,124.55 661.20,117.01 661.60,124.12 662.00,119.92 662.40,122.95 662.80,128.41 663.20,119.91 663.60,127.39 664.00,125.91 664.40,118.41 664.80,119.94 665.20,127.13"/></g>
</svg>
</body></html>
